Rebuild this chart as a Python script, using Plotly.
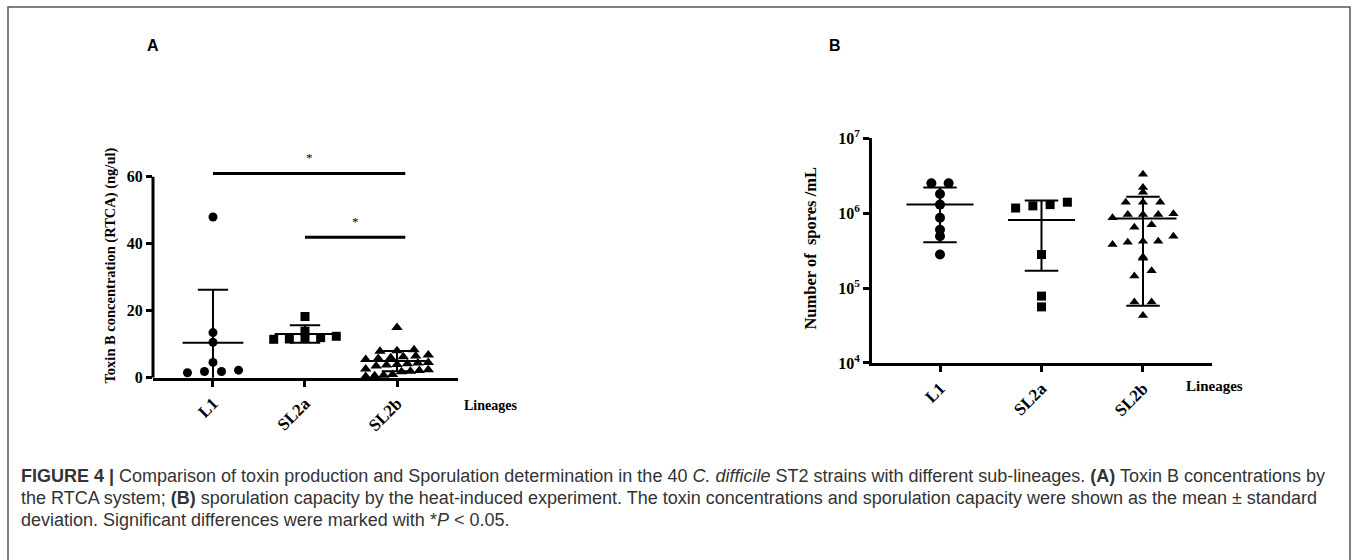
import math
import plotly.graph_objects as go

# ---------------- data ----------------
categories = ["L1", "SL2a", "SL2b"]

# Panel A: Toxin B concentration (ng/ul)
toxin_L1 = [48.0, 13.5, 10.6, 4.6, 1.5, 2.3, 1.9, 1.9]
toxin_SL2a = [18.3, 13.9, 11.5, 11.6, 11.8, 12.0, 12.4]
toxin_SL2b = [15.0, 8.4, 8.1, 7.9, 6.8, 6.5, 6.3, 6.0, 5.8, 5.5, 4.6, 4.4, 4.2,
              4.0, 3.8, 3.5, 2.6, 2.4, 2.2, 2.0, 1.8, 1.0, 0.8, 0.6, 0.4]
toxin_mean = [10.5, 13.1, 5.0]
toxin_sd = [15.8, 2.6, 3.0]

# Panel B: number of spores / mL
spores_L1 = [2.5e6, 2.5e6, 1.8e6, 1.3e6, 8.7e5, 6.0e5, 4.9e5, 2.8e5]
spores_SL2a = [1.4e6, 1.17e6, 1.3e6, 1.25e6, 2.8e5, 7.8e4, 5.6e4]
spores_SL2b = [3.3e6, 2.2e6, 1.9e6, 1.4e6, 1.4e6, 1.4e6, 9.6e5, 8.7e5, 9.6e5,
               9.8e5, 9.6e5, 6.5e5, 7.0e5, 4.2e5, 4.9e5, 3.8e5, 4.1e5, 4.2e5,
               2.6e5, 2.5e5, 1.7e5, 1.45e5, 6.5e4, 6.5e4, 4.3e4]
spores_mean = [1.3e6, 8.1e5, 8.5e5]
spores_upper = [2.2e6, 1.47e6, 1.65e6]
spores_lower = [4.1e5, 1.7e5, 5.8e4]

# significance comparisons (panel A): (from index, to index, height)
sig_pairs = [(0, 2, 61.0), (1, 2, 42.0)]

y_ticks_A = [0, 20, 40, 60]
y_ticks_B = [1e4, 1e5, 1e6, 1e7]
y_ticktext_B = ["10<sup>4</sup>", "10<sup>5</sup>", "10<sup>6</sup>", "10<sup>7</sup>"]

caption_lines = [
    "<b>FIGURE 4 |</b> Comparison of toxin production and Sporulation determination in the 40 "
    "<i>C. difficile</i> ST2 strains with different sub-lineages. <b>(A)</b> Toxin B concentrations by",
    "the RTCA system; <b>(B)</b> sporulation capacity by the heat-induced experiment. The toxin "
    "concentrations and sporulation capacity were shown as the mean ± standard",
    "deviation. Significant differences were marked with *<i>P</i> &lt; 0.05.",
]

# ---------------- layout helpers ----------------
W, H = 1357, 560
SERIF = "Liberation Serif, Times New Roman, serif"
SANS = "Liberation Sans, Arial, sans-serif"


def px(x):
    return x / W


def py(y):
    # vertical pixel (from top) -> paper fraction, with a small empirical correction
    yc = (y - 10) / 0.97
    return 1 - yc / H


def swarm(vals, binsize, step, maxhalf):
    n = len(vals)
    order = sorted(range(n), key=lambda i: vals[i])
    bins = {}
    for i in order:
        bins.setdefault(math.floor(vals[i] / binsize), []).append(i)
    offs = [0.0] * n
    for idx in bins.values():
        m = len(idx)
        st = step if m <= 1 else min(step, 2 * maxhalf / (m - 1))
        for k, i in enumerate(idx):
            offs[i] = (k - (m - 1) / 2) * st
    return offs


def summary_xy(i, mean, lo, hi, mw, cw):
    xs = [i - mw, i + mw, None, i, i, None, i - cw, i + cw, None, i - cw, i + cw]
    ys = [mean, mean, None, lo, hi, None, hi, hi, None, lo, lo]
    return xs, ys


fig = go.Figure()

# ---------------- panel A ----------------
groupsA = [toxin_L1, toxin_SL2a, toxin_SL2b]
symbolsA = ["circle", "square", "triangle-up"]
sizesA = [9, 9, 10]
for i, (vals, sym, sz) in enumerate(zip(groupsA, symbolsA, sizesA)):
    offs = swarm(vals, 2.5, 0.185, 0.34)
    fig.add_trace(go.Scatter(
        x=[i + o for o in offs], y=vals, mode="markers",
        marker=dict(symbol=sym, size=sz, color="black"),
        xaxis="x", yaxis="y", cliponaxis=False, showlegend=False))
for i in range(3):
    xs, ys = summary_xy(i, toxin_mean[i], toxin_mean[i] - toxin_sd[i],
                        toxin_mean[i] + toxin_sd[i], 0.33, 0.165)
    fig.add_trace(go.Scatter(x=xs, y=ys, mode="lines",
                             line=dict(color="black", width=2),
                             xaxis="x", yaxis="y", showlegend=False))

# ---------------- panel B ----------------
groupsB = [spores_L1, spores_SL2a, spores_SL2b]
symbolsB = ["circle", "square", "triangle-up"]
sizesB = [10, 9, 9]
for i, (vals, sym, sz) in enumerate(zip(groupsB, symbolsB, sizesB)):
    offs = swarm([math.log10(v) for v in vals], 0.15, 0.17, 0.3)
    fig.add_trace(go.Scatter(
        x=[i + o for o in offs], y=vals, mode="markers",
        marker=dict(symbol=sym, size=sz, color="black"),
        xaxis="x2", yaxis="y2", cliponaxis=False, showlegend=False))
for i in range(3):
    xs, ys = summary_xy(i, spores_mean[i], spores_lower[i], spores_upper[i], 0.33, 0.165)
    fig.add_trace(go.Scatter(x=xs, y=ys, mode="lines",
                             line=dict(color="black", width=2),
                             xaxis="x2", yaxis="y2", showlegend=False))

xtickfont = dict(family=SERIF, size=17, color="black", weight="bold")
ytickfont = dict(family=SERIF, size=16, color="black", weight="bold")

common_x = dict(tickmode="array", tickvals=[0, 1, 2], ticktext=categories,
                tickangle=-45, ticks="outside", ticklen=6, tickwidth=2.5,
                tickcolor="black", showline=True, linewidth=3, linecolor="black",
                showgrid=False, zeroline=False, tickfont=xtickfont)

shapes = []
# y-axis line of panel A (0..60)
shapes.append(dict(type="line", xref="x domain", yref="y", x0=0, x1=0,
                   y0=y_ticks_A[0], y1=y_ticks_A[-1],
                   line=dict(color="black", width=3)))
annotations = []
for a, b, h in sig_pairs:
    shapes.append(dict(type="line", xref="x", yref="y", x0=a, x1=b + 0.09,
                       y0=h, y1=h, line=dict(color="black", width=3)))
    annotations.append(dict(x=(a + b + 0.09) / 2, y=h, xref="x", yref="y",
                            text="*", showarrow=False, xanchor="center",
                            yanchor="bottom", yshift=6,
                            font=dict(family=SERIF, size=13, color="black")))

# outer frame
shapes.append(dict(type="rect", xref="paper", yref="paper",
                   x0=px(8), x1=px(1350), y0=-0.03, y1=py(6),
                   line=dict(color="#555555", width=1.5)))


def label(x, y, text, font, xanchor="center", angle=0):
    annotations.append(dict(x=px(x), y=py(y), xref="paper", yref="paper", text=text,
                            showarrow=False, xanchor=xanchor, yanchor="middle",
                            textangle=angle, font=font))


# panel letters
label(153, 45, "<b>A</b>", dict(family=SANS, size=16, color="black"))
label(835, 45, "<b>B</b>", dict(family=SANS, size=16, color="black"))
# axis titles
label(110, 266, "<b>Toxin B concentration (RTCA) (ng/ul)</b>",
      dict(family=SERIF, size=14.5, color="black"), angle=-90)
label(811, 249, "<b>Number of \u00a0spores /mL</b>",
      dict(family=SERIF, size=16.5, color="black"), angle=-90)
label(462, 407, "<b>Lineages</b>", dict(family=SERIF, size=14, color="black"), xanchor="left")
label(1184, 387, "<b>Lineages</b>", dict(family=SERIF, size=15, color="black"), xanchor="left")
# caption
for k, line in enumerate(caption_lines):
    label(19, 478 + 22 * k, line, dict(family=SANS, size=18, color="#333333"), xanchor="left")

fig.update_layout(
    width=W, height=H, autosize=False,
    margin=dict(l=0, r=0, t=0, b=0),
    paper_bgcolor="white", plot_bgcolor="white",
    showlegend=False,
    xaxis=dict(domain=[px(153), px(458)], range=[-0.652, 2.663], anchor="y", **common_x),
    yaxis=dict(domain=[py(379), py(156.6)], range=[0, 66], anchor="x",
               tickmode="array", tickvals=y_ticks_A, ticks="outside", ticklen=6,
               tickwidth=2.5, tickcolor="black", showline=False, showgrid=False,
               zeroline=False, tickfont=ytickfont),
    xaxis2=dict(domain=[px(872), px(1212)], range=[-0.67, 2.68], anchor="y2", **common_x),
    yaxis2=dict(domain=[py(364), py(138)], type="log", range=[4, 7], anchor="x2",
                tickmode="array", tickvals=y_ticks_B, ticktext=y_ticktext_B,
                ticks="outside", ticklen=6, tickwidth=2.5, tickcolor="black",
                showline=True, linewidth=3, linecolor="black", showgrid=False,
                zeroline=False, tickfont=ytickfont),
    shapes=shapes,
    annotations=annotations,
)

fig.write_html("out.html")
